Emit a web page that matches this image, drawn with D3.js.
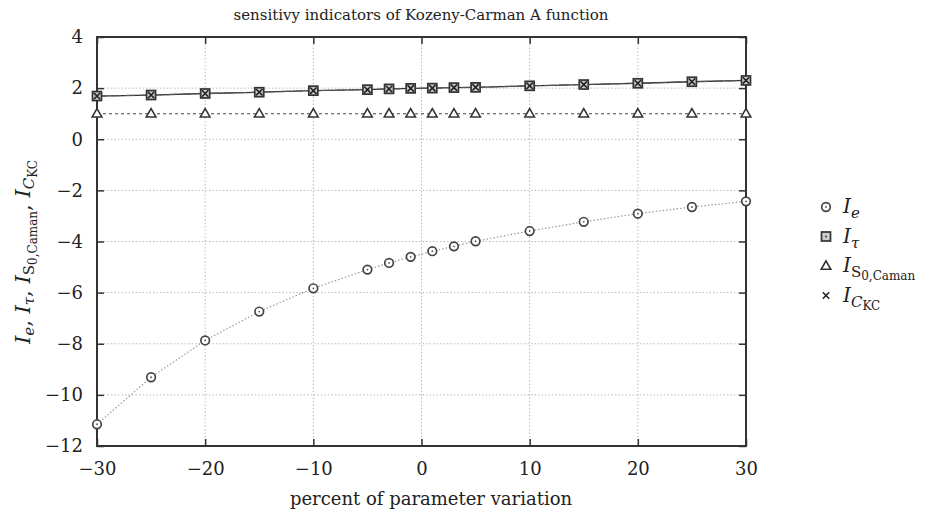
<!DOCTYPE html>
<html lang="en">
<head>
<meta charset="UTF-8">
<title>sensitivy indicators of Kozeny-Carman A function</title>
<script src="https://d3js.org/d3.v7.min.js"></script>
<style>
body {margin: 0; background: white;}
svg {display: block;}
text {font-family: "DejaVu Serif", "Liberation Serif", serif; fill: #222;}
.grid line {stroke: #bbb; stroke-dasharray: 1.5,2; stroke-width: 1;}
</style>
</head>
<body>
<svg id="chart" width="933" height="517"></svg>
<script>
// percent of parameter variation
var percents = [-30, -25, -20, -15, -10, -5, -3, -1, 1, 3, 5, 10, 15, 20, 25, 30];
var iE   = [-11.15, -9.31, -7.87, -6.74, -5.83, -5.10, -4.84, -4.60, -4.38, -4.19, -3.99, -3.59, -3.23, -2.91, -2.65, -2.43];
var iTau = [1.69, 1.73, 1.79, 1.84, 1.90, 1.94, 1.97, 1.99, 2.00, 2.02, 2.03, 2.09, 2.14, 2.19, 2.25, 2.30];
var iS0  = [1, 1, 1, 1, 1, 1, 1, 1, 1, 1, 1, 1, 1, 1, 1, 1];
var iCKC = [1.69, 1.73, 1.79, 1.84, 1.90, 1.94, 1.97, 1.99, 2.00, 2.02, 2.03, 2.09, 2.14, 2.19, 2.25, 2.30];
var xTicks = [-30, -20, -10, 0, 10, 20, 30];
var yTicks = [4, 2, 0, -2, -4, -6, -8, -10, -12];

var svg = d3.select("#chart");
var m = {left: 97, right: 746, top: 37, bottom: 446};
var xs = d3.scaleLinear().domain([-30, 30]).range([m.left, m.right]);
var ys = d3.scaleLinear().domain([-12, 4]).range([m.bottom, m.top]);
var fmt = function(d) { return d < 0 ? "\u2212" + Math.abs(d) : d; };

// grid
svg.append("g").attr("class", "grid")
  .selectAll("line.v").data(xTicks.slice(1, -1)).enter().append("line")
  .attr("x1", d => xs(d)).attr("x2", d => xs(d))
  .attr("y1", m.top).attr("y2", m.bottom);
svg.append("g").attr("class", "grid")
  .selectAll("line.h").data(yTicks.slice(1, -1)).enter().append("line")
  .attr("x1", m.left).attr("x2", m.right)
  .attr("y1", d => ys(d)).attr("y2", d => ys(d));

// axes with inward ticks
var ax = function(g) {
  g.select(".domain").remove();
  g.selectAll(".tick line").attr("stroke", "#333").attr("stroke-width", 1.5);
};
svg.append("g").attr("transform", "translate(0," + m.bottom + ")")
  .call(d3.axisBottom(xs).tickValues(xTicks).tickFormat(fmt).tickSizeInner(-7).tickPadding(16))
  .call(ax);
svg.append("g").attr("transform", "translate(0," + m.top + ")")
  .call(d3.axisTop(xs).tickValues(xTicks).tickFormat("").tickSizeInner(-7))
  .call(ax);
svg.append("g").attr("transform", "translate(" + m.left + ",0)")
  .call(d3.axisLeft(ys).tickValues(yTicks).tickFormat(fmt).tickSizeInner(-7).tickPadding(14))
  .call(ax);
svg.append("g").attr("transform", "translate(" + m.right + ",0)")
  .call(d3.axisRight(ys).tickValues(yTicks).tickFormat("").tickSizeInner(-7))
  .call(ax);
svg.selectAll(".tick text").style("font-size", "18px")
  .attr("font-family", "DejaVu Serif, serif").attr("fill", "#222");

svg.append("rect").attr("x", m.left).attr("y", m.top)
  .attr("width", m.right - m.left).attr("height", m.bottom - m.top)
  .attr("fill", "none").attr("stroke", "#333").attr("stroke-width", 2);

// series
var series = [
  {vals: iE,   dash: "1.5,2",  color: "#999", width: 1.2, mark: "circle"},
  {vals: iTau, dash: null,     color: "#333", width: 1.3, mark: "square"},
  {vals: iS0,  dash: "3,3",    color: "#444", width: 1.1, mark: "triangle"},
  {vals: iCKC, dash: "10,4",   color: "#555", width: 1.1, mark: "cross"}
];

var line = d3.line().x(d => xs(d[0])).y(d => ys(d[1]));

function drawMark(g, kind, x, y) {
  if (kind === "circle") {
    g.append("circle").attr("cx", x).attr("cy", y).attr("r", 4.3)
      .attr("fill", "white").attr("stroke", "#444").attr("stroke-width", 1.7);
    g.append("circle").attr("cx", x).attr("cy", y).attr("r", 0.9).attr("fill", "#555");
  } else if (kind === "square") {
    g.append("rect").attr("x", x - 4.5).attr("y", y - 4.5).attr("width", 9).attr("height", 9)
      .attr("fill", "#ccc").attr("stroke", "#333").attr("stroke-width", 1.7);
    g.append("circle").attr("cx", x).attr("cy", y).attr("r", 0.9).attr("fill", "#333");
  } else if (kind === "triangle") {
    g.append("path").attr("d", d3.symbol().type(d3.symbolTriangle).size(40)())
      .attr("transform", "translate(" + x + "," + (y + 0.5) + ")")
      .attr("fill", "white").attr("stroke", "#333").attr("stroke-width", 1.6);
  } else {
    g.append("path").attr("d", "M-3.2,-3.2L3.2,3.2M-3.2,3.2L3.2,-3.2")
      .attr("transform", "translate(" + x + "," + y + ")")
      .attr("stroke", "#222").attr("stroke-width", 1.6);
  }
}

series.forEach(function(s) {
  var pts = percents.map((p, i) => [p, s.vals[i]]);
  svg.append("path").datum(pts).attr("d", line)
    .attr("fill", "none").attr("stroke", s.color).attr("stroke-width", s.width)
    .attr("stroke-dasharray", s.dash);
});
series.forEach(function(s) {
  var g = svg.append("g");
  percents.forEach(function(p, i) { drawMark(g, s.mark, xs(p), ys(s.vals[i])); });
});

// title and labels
svg.append("text").attr("x", 421).attr("y", 20).attr("text-anchor", "middle")
  .style("font-size", "15px")
  .text("sensitivy indicators of Kozeny-Carman A function");
svg.append("text").attr("x", 431).attr("y", 505).attr("text-anchor", "middle")
  .style("font-size", "18px").text("percent of parameter variation");

// y label
var yl = svg.append("text").attr("transform", "translate(30,252) rotate(-90)")
  .attr("text-anchor", "middle").style("font-size", "21px");
function sym(t, sub, sub2) {
  yl.append("tspan").attr("font-style", "italic").text("I");
  var s = yl.append("tspan").attr("baseline-shift", "-25%").style("font-size", "15px");
  s.append("tspan").attr("font-style", sub === "S" ? "normal" : "italic").text(sub);
  if (sub2) s.append("tspan").attr("baseline-shift", "-25%").style("font-size", "12px")
    .attr("font-style", "normal").text(sub2);
  if (t) yl.append("tspan").text(t);
}
sym(", ", "e");
sym(", ", "\u03c4");
sym(", ", "S", "0,Caman");
sym("", "C", "KC");

// legend
var legend = [
  {mark: "circle", sub: "e", sub2: null},
  {mark: "square", sub: "\u03c4", sub2: null},
  {mark: "triangle", sub: "S", sub2: "0,Caman"},
  {mark: "cross", sub: "C", sub2: "KC"}
];
legend.forEach(function(l, i) {
  var y = 207 + i * 29.5;
  var g = svg.append("g");
  drawMark(g, l.mark, 826, y);
  var t = g.append("text").attr("x", 843).attr("y", y + 6).style("font-size", "20px");
  t.append("tspan").attr("font-style", "italic").text("I");
  t.append("tspan").attr("dy", 5).style("font-size", "15px")
    .attr("font-style", l.sub === "S" ? "normal" : "italic").text(l.sub);
  if (l.sub2) t.append("tspan").attr("dy", 3).style("font-size", "12px")
    .attr("font-style", "normal").text(l.sub2);
});
</script>
</body>
</html>
